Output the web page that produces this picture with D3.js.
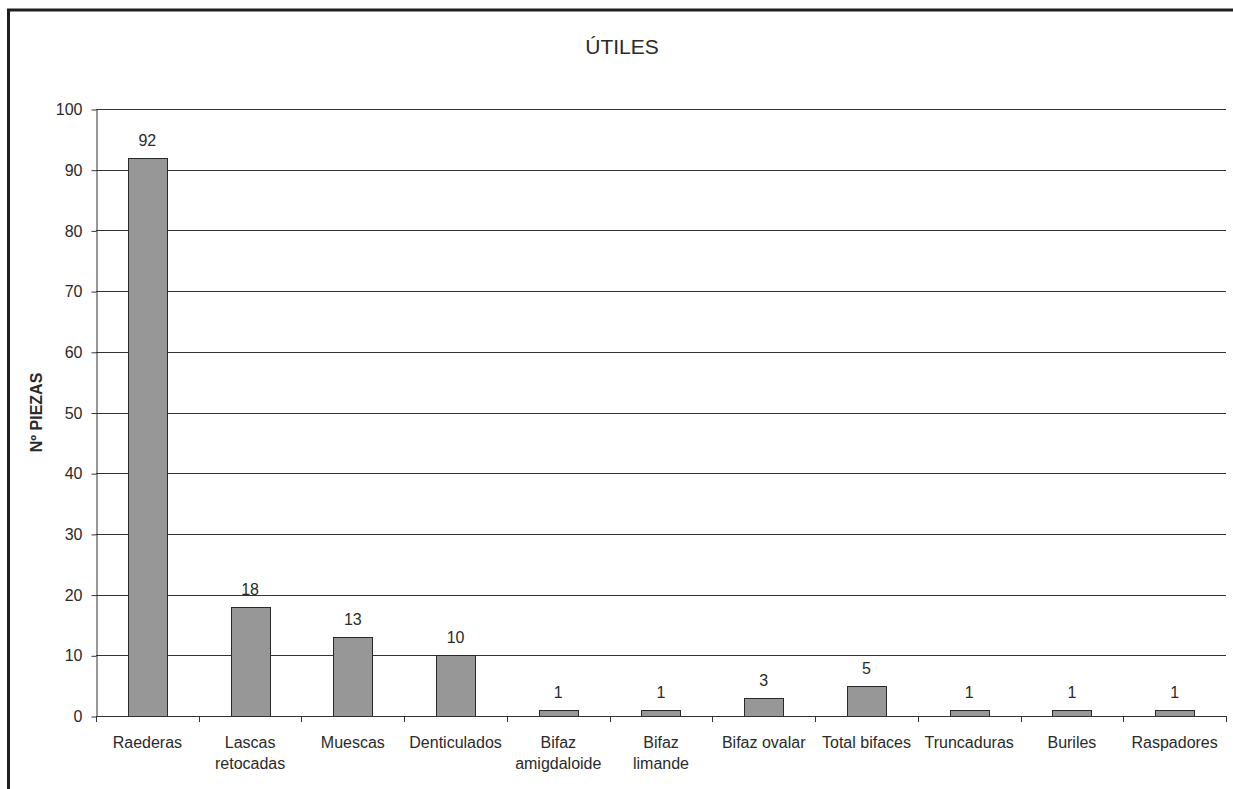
<!DOCTYPE html>
<html>
<head>
<meta charset="utf-8">
<script src="https://cdn.jsdelivr.net/npm/d3@7"></script>
<style>
  body { margin: 0; background: #fff; overflow: hidden; }
  svg { display: block; }
  svg text { font-family: "Liberation Sans", Arial, sans-serif; fill: #2a2a2a; }
</style>
</head>
<body>
<svg id="chart" width="1233" height="789"></svg>
<script>
// data
var categories = ["Raederas", "Lascas retocadas", "Muescas", "Denticulados", "Bifaz amigdaloide",
                  "Bifaz limande", "Bifaz ovalar", "Total bifaces", "Truncaduras", "Buriles", "Raspadores"];
var piezas = [92, 18, 13, 10, 1, 1, 3, 5, 1, 1, 1];
var yTicks = [0, 10, 20, 30, 40, 50, 60, 70, 80, 90, 100];

var svg = d3.select("#chart");

// frame of the figure: only left and top edges are inside the picture
svg.append("path")
    .attr("d", "M8.5,789 L8.5,10 L1233,10")
    .attr("fill", "none")
    .attr("stroke", "#1e1e1e")
    .attr("stroke-width", 3);

var plotLeft = 96, plotRight = 1226, plotTop = 109, plotBottom = 716;

var x = d3.scaleBand()
    .domain(categories)
    .range([plotLeft, plotRight])
    .paddingInner(0.62)
    .paddingOuter(0.31);

var xEdge = d3.scaleLinear().domain([0, categories.length]).range([plotLeft, plotRight]);

var y = d3.scaleLinear().domain([0, 100]).range([plotBottom, plotTop]);

// gridlines
svg.append("g")
    .selectAll("line")
    .data(yTicks.filter(function(d){ return d > 0; }))
    .join("line")
    .attr("x1", plotLeft).attr("x2", plotRight)
    .attr("y1", function(d){ return Math.round(y(d)) + 0.5; })
    .attr("y2", function(d){ return Math.round(y(d)) + 0.5; })
    .attr("stroke", "#333")
    .attr("stroke-width", 1);

// y axis
var yAxis = svg.append("g")
    .attr("transform", "translate(" + (plotLeft + 0.5) + ",0.5)")
    .call(d3.axisLeft(y).tickValues(yTicks).tickSize(5).tickPadding(9).tickSizeOuter(0));
yAxis.select(".domain").attr("stroke", "#333");
yAxis.selectAll(".tick line").attr("stroke", "#333");
yAxis.selectAll("text")
    .attr("font-size", 16)
    .attr("font-family", "'Liberation Sans', Arial, sans-serif")
    .style("fill", "#2a2a2a");

// bars
svg.append("g")
    .selectAll("rect")
    .data(piezas)
    .join("rect")
    .attr("x", function(d, i){ return Math.round(x(categories[i])) + 0.5; })
    .attr("y", function(d){ return Math.round(y(d)) + 0.5; })
    .attr("width", Math.round(x.bandwidth()))
    .attr("height", function(d){ return plotBottom - Math.round(y(d)); })
    .attr("fill", "#979797")
    .attr("stroke", "#2a2a2a")
    .attr("stroke-width", 1);

// value labels
svg.append("g")
    .selectAll("text")
    .data(piezas)
    .join("text")
    .attr("x", function(d, i){ return x(categories[i]) + x.bandwidth() / 2; })
    .attr("y", function(d){ return y(d) - 12; })
    .attr("text-anchor", "middle")
    .attr("font-size", 16)
    .text(function(d){ return d; });

// x axis line and ticks between categories
svg.append("line")
    .attr("x1", plotLeft).attr("x2", plotRight)
    .attr("y1", plotBottom + 0.5).attr("y2", plotBottom + 0.5)
    .attr("stroke", "#333");
svg.append("g")
    .selectAll("line")
    .data(d3.range(categories.length + 1))
    .join("line")
    .attr("x1", function(i){ return Math.round(xEdge(i)) + 0.5; })
    .attr("x2", function(i){ return Math.round(xEdge(i)) + 0.5; })
    .attr("y1", plotBottom).attr("y2", plotBottom + 6)
    .attr("stroke", "#333");

// category labels (wrapped like the original)
var labelLines = {
    "Lascas retocadas": ["Lascas", "retocadas"],
    "Bifaz amigdaloide": ["Bifaz", "amigdaloide"],
    "Bifaz limande": ["Bifaz", "limande"]
};
svg.append("g")
    .selectAll("text")
    .data(categories)
    .join("text")
    .attr("x", function(d){ return x(d) + x.bandwidth() / 2; })
    .attr("y", 748)
    .attr("text-anchor", "middle")
    .attr("font-size", 16)
    .each(function(d){
        var lines = labelLines[d] || [d];
        var t = d3.select(this);
        lines.forEach(function(s, k){
            t.append("tspan")
                .attr("x", x(d) + x.bandwidth() / 2)
                .attr("dy", k === 0 ? 0 : 21)
                .text(s);
        });
    });

// title
svg.append("text")
    .attr("x", 622).attr("y", 54)
    .attr("text-anchor", "middle")
    .attr("font-size", 21)
    .text("ÚTILES");

// y axis title
svg.append("text")
    .attr("transform", "translate(42," + ((plotTop + plotBottom) / 2) + ") rotate(-90)")
    .attr("text-anchor", "middle")
    .attr("font-size", 16)
    .attr("font-weight", "bold")
    .text("Nº PIEZAS");
</script>
</body>
</html>
